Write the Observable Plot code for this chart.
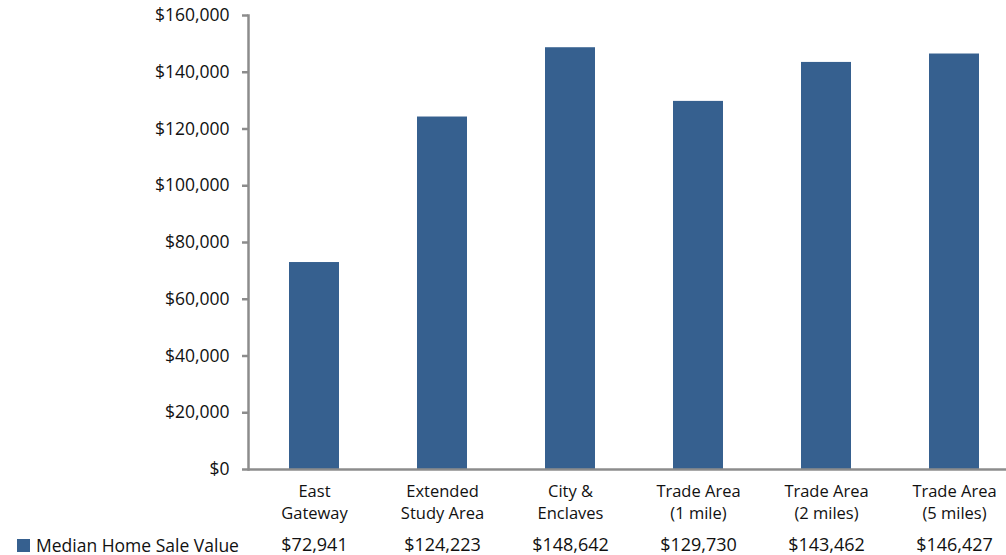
<!DOCTYPE html>
<html>
<head>
<meta charset="utf-8">
<script src="https://cdn.jsdelivr.net/npm/d3@7"></script>
<script src="https://cdn.jsdelivr.net/npm/@observablehq/plot@0.6"></script>
<style>
  html, body { margin: 0; padding: 0; background: #fff; overflow: hidden; }
  #wrap { position: relative; width: 1006px; height: 555px; font-family: "Open Sans", sans-serif; }
  #legend { position: absolute; left: 17px; top: 533px; display: flex; align-items: center; font-size: 17.5px; color: #111; }
  #legend .sw { width: 13px; height: 13px; background: #36608f; margin-right: 6px; }
</style>
</head>
<body>
<div id="wrap">
  <div id="chart"></div>
  <div id="legend"><span class="sw"></span><span>Median Home Sale Value</span></div>
</div>
<script>
// Median home sale value by area
const categories = [
  "East\nGateway",
  "Extended\nStudy Area",
  "City &\nEnclaves",
  "Trade Area\n(1 mile)",
  "Trade Area\n(2 miles)",
  "Trade Area\n(5 miles)"
];
const values = [72941, 124223, 148642, 129730, 143462, 146427];
const yTicks = [0, 20000, 40000, 60000, 80000, 100000, 120000, 140000, 160000];

const data = categories.map((name, i) => ({name, value: values[i]}));
const money = d3.format("$,.0f");
const axisGray = "#8c8c8c";
const barColor = "#36608f";
const font = "Open Sans, sans-serif";

const chart = Plot.plot({
  width: 1006,
  height: 555,
  marginTop: 15,
  marginBottom: 86,
  marginLeft: 248,
  marginRight: 0,
  style: {fontFamily: font, fontSize: "17px", color: "#111", background: "#fff"},
  x: {type: "band", domain: categories, range: [248, 1019.6], paddingInner: 0.611, paddingOuter: 0.3055, axis: null},
  y: {domain: [0, 160000], axis: null},
  marks: [
    Plot.barY(data, {x: "name", y: "value", fill: barColor}),
    // left axis line
    Plot.frame({anchor: "left", stroke: axisGray, strokeWidth: 2.5}),
    Plot.axisY({ticks: yTicks, tickFormat: money, label: null, tickSize: 6, tickPadding: 13, stroke: axisGray, strokeWidth: 2.5, strokeOpacity: 1, fontSize: 17.5, fill: "#111"}),
    // baseline
    Plot.ruleY([0], {stroke: axisGray, strokeWidth: 2.5}),
    // category labels
    Plot.text(data, {x: "name", text: "name", frameAnchor: "bottom", lineAnchor: "top", dy: 11, lineHeight: 1.38, fontSize: 16.5, fill: "#111"}),
    // value row
    Plot.text(data, {x: "name", text: d => money(d.value), frameAnchor: "bottom", lineAnchor: "middle", dy: 76, fontSize: 18, fill: "#111"})
  ]
});
document.getElementById("chart").appendChild(chart);
</script>
</body>
</html>
